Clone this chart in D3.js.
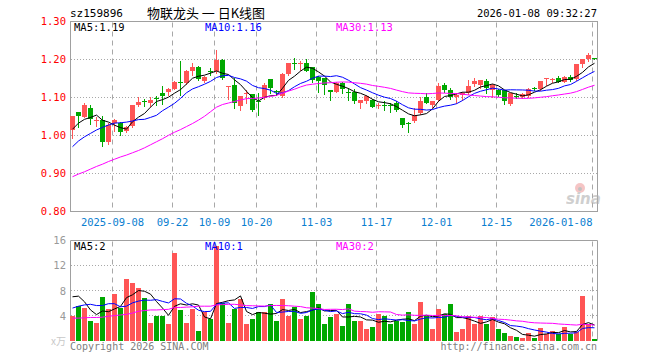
<!DOCTYPE html>
<html><head><meta charset="utf-8">
<script src="https://cdn.jsdelivr.net/npm/d3@7"></script>
<style>body{margin:0;background:#fff;}svg{display:block;}</style>
</head><body><svg id="c" width="660" height="360"></svg>
<script>
const dates = ["2025-08-28","2025-08-29",
"2025-09-01","2025-09-02","2025-09-03","2025-09-04","2025-09-05","2025-09-08","2025-09-09","2025-09-10","2025-09-11","2025-09-12",
"2025-09-15","2025-09-16","2025-09-17","2025-09-18","2025-09-19","2025-09-22","2025-09-23","2025-09-24","2025-09-25","2025-09-26","2025-09-29","2025-09-30",
"2025-10-09","2025-10-10","2025-10-13","2025-10-14","2025-10-15","2025-10-16","2025-10-17","2025-10-20","2025-10-21","2025-10-22","2025-10-23","2025-10-24",
"2025-10-27","2025-10-28","2025-10-29","2025-10-30","2025-10-31",
"2025-11-03","2025-11-04","2025-11-05","2025-11-06","2025-11-07","2025-11-10","2025-11-11","2025-11-12","2025-11-13","2025-11-14",
"2025-11-17","2025-11-18","2025-11-19","2025-11-20","2025-11-21","2025-11-24","2025-11-25","2025-11-26","2025-11-27","2025-11-28",
"2025-12-01","2025-12-02","2025-12-03","2025-12-04","2025-12-05","2025-12-08","2025-12-09","2025-12-10","2025-12-11","2025-12-12",
"2025-12-15","2025-12-16","2025-12-17","2025-12-18","2025-12-19","2025-12-22","2025-12-23","2025-12-24","2025-12-25","2025-12-26",
"2025-12-29","2025-12-30","2025-12-31","2026-01-05","2026-01-06","2026-01-07","2026-01-08"];

const open = [1.014,1.061,1.049,1.071,1.039,1.039,0.983,1.033,1.032,1.011,
1.025,1.080,1.089,1.086,1.097,1.112,1.114,1.121,1.141,1.137,
1.170,1.181,1.143,1.168,1.168,1.198,1.129,1.132,1.078,1.108,
1.109,1.089,1.097,1.147,1.116,1.104,1.161,1.189,1.187,1.191,
1.181,1.154,1.152,1.119,1.113,1.137,1.113,1.115,1.084,1.090,
1.093,1.077,1.080,1.079,1.084,1.045,1.033,1.038,1.060,1.100,
1.080,1.093,1.132,1.119,1.102,1.106,1.111,1.134,1.132,1.143,
1.119,1.119,1.119,1.082,1.104,1.102,1.104,1.124,1.121,1.148,
1.147,1.152,1.141,1.154,1.147,1.188,1.200,1.203];
const high = [1.051,1.061,1.085,1.079,1.049,1.051,1.032,1.044,1.034,1.025,
1.080,1.100,1.095,1.100,1.104,1.130,1.124,1.144,1.196,1.171,
1.191,1.183,1.156,1.176,1.225,1.200,1.131,1.152,1.104,1.119,
1.109,1.112,1.137,1.147,1.118,1.163,1.191,1.203,1.196,1.200,
1.181,1.156,1.152,1.119,1.139,1.139,1.125,1.121,1.093,1.106,
1.095,1.084,1.089,1.086,1.089,1.045,1.036,1.071,1.100,1.112,
1.091,1.137,1.137,1.124,1.112,1.115,1.146,1.150,1.146,1.148,
1.135,1.121,1.119,1.111,1.110,1.112,1.124,1.126,1.143,1.152,
1.152,1.156,1.156,1.159,1.188,1.201,1.216,1.203];
const low = [0.994,1.023,1.047,1.029,1.025,0.972,0.976,1.012,1.001,1.010,
1.021,1.078,1.078,1.078,1.080,1.082,1.105,1.121,1.105,1.135,
1.159,1.145,1.139,1.159,1.163,1.147,1.095,1.073,1.067,1.084,
1.064,1.053,1.095,1.111,1.106,1.100,1.159,1.175,1.172,1.168,
1.141,1.115,1.109,1.093,1.113,1.112,1.093,1.086,1.071,1.084,
1.074,1.071,1.067,1.062,1.065,1.021,1.010,1.036,1.056,1.084,
1.075,1.091,1.115,1.095,1.084,1.093,1.109,1.130,1.124,1.112,
1.102,1.104,1.082,1.080,1.097,1.097,1.102,1.119,1.119,1.132,
1.139,1.139,1.139,1.144,1.146,1.179,1.196,1.200];
const close = [1.051,1.051,1.081,1.042,1.041,0.983,1.027,1.040,1.010,1.021,
1.080,1.088,1.088,1.093,1.096,1.104,1.121,1.140,1.140,1.169,
1.181,1.147,1.154,1.167,1.198,1.150,1.131,1.084,1.104,1.110,
1.067,1.087,1.132,1.124,1.115,1.161,1.191,1.187,1.190,1.168,
1.146,1.143,1.132,1.113,1.137,1.121,1.112,1.090,1.093,1.104,
1.075,1.079,1.079,1.078,1.067,1.027,1.031,1.054,1.090,1.084,
1.089,1.130,1.118,1.102,1.106,1.111,1.130,1.143,1.146,1.124,
1.132,1.106,1.089,1.111,1.103,1.109,1.121,1.123,1.143,1.150,
1.148,1.139,1.154,1.146,1.188,1.201,1.211,1.202];
const volume = [4.0,5.6,5.2,3.2,2.8,6.9,5.0,7.4,5.2,9.8,
9.2,8.4,6.8,2.9,3.9,4.0,2.6,14.0,4.9,2.9,
5.0,1.6,4.5,3.4,15.1,6.0,2.9,5.1,6.6,2.7,
3.5,4.6,4.5,5.9,3.2,6.6,3.9,5.3,3.4,4.0,
7.7,5.9,2.7,3.7,4.2,2.4,5.9,3.2,3.2,1.9,
2.2,4.2,4.0,2.7,3.2,3.0,4.5,2.6,6.2,4.0,
1.8,5.1,4.3,5.8,1.4,1.8,4.0,2.6,4.0,2.6,
3.7,1.9,1.3,0.8,0.6,0.4,1.3,0.5,2.1,1.1,
1.6,1.1,2.2,1.0,1.4,7.2,2.6,0.3];

// moving-average values at the left edge (earlier history not on the chart)
const priceMa5Head = [1.016,1.032,1.042,1.047];
const priceMa10Head = [0.970,0.985,0.996,1.005,1.014,1.021,1.027,1.032,1.033];
const priceMa30Head = [0.891,0.898,0.904,0.911,0.918,0.924,0.931,0.937,0.943,0.948,0.954,0.960,0.967,0.975,0.983,0.991,1.000,1.008,1.015,1.023,1.031,1.040,1.050,1.062,1.074,1.081,1.085,1.089,1.093];
const volMa5Head = [7.0,7.1,6.2,4.9];
const volMa10Head = [5.2,5.5,5.7,5.8,5.6,5.6,5.9,5.9,5.4];
const volMa30Head = [3.6,3.6,3.65,3.7,3.7,3.75,3.9,4.0,4.1,4.2,4.4,4.7,4.8,4.9,4.9,4.95,5.0,5.3,5.3,5.35,5.4,5.5,5.5,5.5,5.7,5.75,5.8,5.8,5.7];

const priceTicks = [0.80,0.90,1.00,1.10,1.20,1.30];
const volTicks = [4,8,12,16];
const dateTicks = ["2025-09-08","2025-09-22","2025-10-09","2025-10-20","2025-11-03","2025-11-17","2025-12-01","2025-12-15","2026-01-08"];
const dateTickLabels = ["2025-09-08","09-22","10-09","10-20","11-03","11-17","12-01","12-15","2026-01-08"];
const priceMaLabels = ["MA5:1.19","MA10:1.16","MA30:1.13"];
const volMaLabels = ["MA5:2","MA10:1","MA30:2"];
const code = "sz159896";
const title = "物联龙头 一 日K线图";
const stamp = "2026-01-08 09:32:27";

const UP = "#ff5555", DOWN = "#00a800", GRID = "#a8a8a8", BORDER = "#a0a0a0";
const maColors = ["#000000","#0000ff","#ff00ff"];
const MONO = "'DejaVu Sans Mono', monospace";

function movingAvg(vals, n, head) {
  return vals.map((v, i) => i < n - 1 ? head[i] : d3.mean(vals.slice(i - n + 1, i + 1)));
}

const svg = d3.select("#c");
const L = 70, R = 597;
const x = d3.scaleBand().domain(dates).range([69.5, 597.5]).padding(0);
const cx = d => x(d) + 3;
const yP = d3.scaleLinear().domain([0.8, 1.3]).range([211.3, 21.3]);
const yV = d3.scaleLinear().domain([0, 16]).range([340.7, 240.3]);
const crisp = v => Math.floor(v) + 0.5;

// ---- grids ----
function hGrid(scale, ticks, x0, x1) {
  svg.append("g").selectAll("line").data(ticks).join("line")
    .attr("x1", x0).attr("x2", x1)
    .attr("y1", d => crisp(scale(d))).attr("y2", d => crisp(scale(d)))
    .attr("stroke", GRID).attr("stroke-dasharray", "1,2");
}
hGrid(yP, priceTicks.filter(t => t > 0.8 && t < 1.3), L + 1, R);
hGrid(yV, volTicks.filter(t => t < 16), L + 1, R);

function vGrid(y0, y1) {
  svg.append("g").selectAll("line").data(dateTicks).join("line")
    .attr("x1", d => x(d) + 1).attr("x2", d => x(d) + 1)
    .attr("y1", y0).attr("y2", y1)
    .attr("stroke", GRID).attr("stroke-dasharray", "5,4");
}
vGrid(crisp(yP(1.3)) + 1, crisp(yP(0.8)));
vGrid(crisp(yV(16)) + 1, yV(0));

// ---- borders ----
const bg = svg.append("g").attr("stroke", BORDER).attr("fill", "none");
bg.append("rect").attr("x", L + 0.5).attr("y", crisp(yP(1.3)))
  .attr("width", R - L).attr("height", crisp(yP(0.8)) - crisp(yP(1.3)));
bg.append("path").attr("d", `M${L + 0.5},${yV(0)}V${crisp(yV(16))}H${R + 0.5}V${yV(0)}`);

// ---- candles ----
const cg = svg.append("g");
dates.forEach((d, i) => {
  const o = open[i], c = close[i];
  const col = c >= o ? UP : DOWN;
  cg.append("line").attr("x1", cx(d)).attr("x2", cx(d))
    .attr("y1", Math.round(yP(high[i]))).attr("y2", Math.round(yP(low[i])) + 1)
    .attr("stroke", col);
  const yt = Math.round(yP(Math.max(o, c))), yb = Math.round(yP(Math.min(o, c)));
  cg.append("rect").attr("x", x(d) + 0.5).attr("width", 5)
    .attr("y", yt).attr("height", Math.max(1, yb - yt))
    .attr("fill", col);
});

// ---- volume bars ----
svg.append("g").selectAll("rect").data(dates).join("rect")
  .attr("x", d => x(d) + 0.5).attr("width", 5)
  .attr("y", (d, i) => Math.round(yV(volume[i])))
  .attr("height", (d, i) => Math.round(yV(0)) - Math.round(yV(volume[i])))
  .attr("fill", (d, i) => close[i] >= open[i] ? UP : DOWN);

// ---- MA lines ----
function maLines(vals, heads, yScale) {
  [5, 10, 30].forEach((n, k) => {
    const m = movingAvg(vals, n, heads[k]);
    svg.append("path").datum(m)
      .attr("d", d3.line().x((v, i) => cx(dates[i])).y(v => yScale(v)))
      .attr("fill", "none").attr("stroke", maColors[k]).attr("stroke-width", 1);
  });
}
maLines(close, [priceMa5Head, priceMa10Head, priceMa30Head], yP);
maLines(volume, [volMa5Head, volMa10Head, volMa30Head], yV);

// ---- axis labels ----
const text = (sx, sy, s, opt = {}) => svg.append("text").attr("x", sx).attr("y", sy).text(s)
  .attr("font-family", opt.font || MONO).attr("font-size", opt.size || 10)
  .attr("fill", opt.fill || "#000").attr("text-anchor", opt.anchor || "start");

priceTicks.forEach(t => text(66, yP(t) + 4, t.toFixed(2), {fill: "#ff0000", anchor: "end", size: 10.5}));
volTicks.forEach(t => text(66, yV(t) + 4, String(t), {fill: "#999999", anchor: "end", size: 10.5}));
text(66, 345, "x万", {fill: "#c8c8c8", anchor: "end", size: 10, font: "'Noto Sans CJK SC', sans-serif"});

dateTicks.forEach((d, i) => {
  const gx = x(d) + 1;
  const t = text(gx, 226, dateTickLabels[i], {fill: "#0a7ed0", anchor: "middle", size: 10.5});
  const w = t.node().getComputedTextLength();
  if (gx + w / 2 > R) t.attr("text-anchor", "end");
});

// ---- legends ----
const legX = [74, 205, 336];
priceMaLabels.forEach((s, k) => text(legX[k], 31, s, {fill: maColors[k], size: 10.5}));
volMaLabels.forEach((s, k) => text(legX[k], 250, s, {fill: maColors[k], size: 10.5}));

// ---- header / footer ----
text(70, 17, code, {size: 11});
text(206, 18, title, {size: 13, anchor: "middle", font: "'Noto Sans CJK SC', sans-serif"});
text(R, 17, stamp, {size: 10.5, anchor: "end"});
text(70, 350, "Copyright 2026 SINA.COM", {fill: "#808080", size: 10});
text(R, 350, "http://finance.sina.com.cn", {fill: "#808080", size: 10, anchor: "end"});

// ---- sina watermark ----
const wm = svg.append("g").attr("opacity", 0.6);
wm.append("circle").attr("cx", 580).attr("cy", 188).attr("r", 5).attr("fill", "#f0a0a0");
wm.append("circle").attr("cx", 580).attr("cy", 189).attr("r", 2).attr("fill", "#999");
wm.append("text").attr("x", 566).attr("y", 204).text("sina")
  .attr("font-family", "'DejaVu Sans', sans-serif").attr("font-size", 15)
  .attr("font-style", "italic").attr("font-weight", "bold").attr("fill", "#b0b0b0");
</script></body></html>
